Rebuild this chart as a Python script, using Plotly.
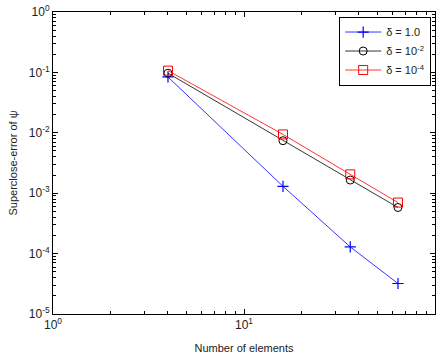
import plotly.graph_objects as go

elements = [4, 16, 36, 64]
err_d1 = [0.084, 1.3e-3, 1.29e-4, 3.2e-5]
err_d2 = [0.097, 7.4e-3, 1.65e-3, 5.8e-4]
err_d4 = [0.107, 9.4e-3, 2.05e-3, 7.0e-4]
names = ["δ = 1.0", "δ = 10<sup>-2</sup>", "δ = 10<sup>-4</sup>"]

x_tickvals = [1, 10, 100]
x_ticktext = ["10<sup>0</sup>", "10<sup>1</sup>", "10<sup>2</sup>"]
x_minor = [m * 10 ** e for e in range(0, 2) for m in range(2, 10)]
y_tickvals = [1e-5, 1e-4, 1e-3, 1e-2, 1e-1, 1]
y_ticktext = ["10<sup>-5</sup>", "10<sup>-4</sup>", "10<sup>-3</sup>", "10<sup>-2</sup>", "10<sup>-1</sup>", "10<sup>0</sup>"]
y_minor = [m * 10.0 ** e for e in range(-5, 0) for m in range(2, 10)]

FONT = "Liberation Sans, Arial"

fig = go.Figure()
fig.add_trace(go.Scatter(x=elements, y=err_d1, name=names[0], mode="lines+markers",
                         line=dict(color="#0000ff", width=0.8),
                         marker=dict(symbol="cross-thin", size=8, line=dict(color="#0000ff", width=1.2))))
fig.add_trace(go.Scatter(x=elements, y=err_d2, name=names[1], mode="lines+markers",
                         line=dict(color="#000000", width=0.8),
                         marker=dict(symbol="circle-open", size=8, line=dict(color="#000000", width=1))))
fig.add_trace(go.Scatter(x=elements, y=err_d4, name=names[2], mode="lines+markers",
                         line=dict(color="#ff0000", width=0.8),
                         marker=dict(symbol="square-open", size=9, line=dict(color="#ff0000", width=1))))

axis_common = dict(showline=True, linecolor="black", linewidth=1, mirror="ticks", ticks="inside",
                   ticklen=5, tickcolor="black", showgrid=False, zeroline=False, automargin=False,
                   tickfont=dict(family=FONT, size=12, color="#222"))

fig.update_xaxes(type="log", range=[0, 2], tickvals=x_tickvals, ticktext=x_ticktext,
                 minor=dict(tickmode="array", tickvals=x_minor, ticks="inside", ticklen=3,
                            tickcolor="black", showgrid=False),
                 title=dict(text="Number of elements", font=dict(family=FONT, size=11, color="#222"), standoff=12),
                 **axis_common)
fig.update_yaxes(type="log", range=[-5, 0], tickvals=y_tickvals, ticktext=y_ticktext,
                 minor=dict(tickmode="array", tickvals=y_minor, ticks="inside", ticklen=3,
                            tickcolor="black", showgrid=False),
                 title=dict(text="Superclose-error of ψ", font=dict(family=FONT, size=11, color="#222"), standoff=8),
                 **axis_common)

fig.update_layout(width=442, height=358, margin=dict(l=53, r=7, t=12, b=44),
                  plot_bgcolor="white", paper_bgcolor="white",
                  legend=dict(x=0.99, y=0.985, xanchor="right", yanchor="top", bgcolor="white",
                              bordercolor="black", borderwidth=1,
                              font=dict(family=FONT, size=11, color="#222"),
                              tracegroupgap=0, itemwidth=36),
                  showlegend=True)

fig.write_html("out.html", config={"displayModeBar": False},
               post_script="document.body.style.margin='0';")
